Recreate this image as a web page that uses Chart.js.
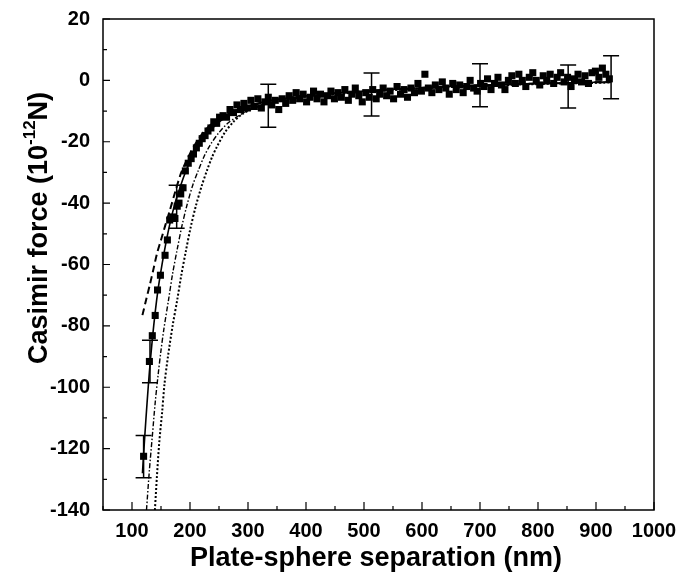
<!DOCTYPE html>
<html>
<head>
<meta charset="utf-8">
<script src="https://cdn.jsdelivr.net/npm/chart.js@4/dist/chart.umd.min.js"></script>
<style>
html,body{margin:0;padding:0;background:#fff;}
#wrap{width:679px;height:580px;}
</style>
</head>
<body>
<div id="wrap"><canvas id="c" width="679" height="580"></canvas></div>
<script>
// ---- data ----
const sepData = [120,130,135,140,144,149,157,161,165,170,174,178,181,184,188,192,197,202,206,211,216,221,226,231,236,241,246,251,257,263,269,275,281,287,293,299,
305,311,317,323,329,335,341,347,353,359,365,371,377,383,389,395,401,407,413,419,425,431,437,443,449,455,461,467,473,479,485,491,497,503,509,515,521,527,533,539,545,551,557,563,569,575,581,587,593,599,605,611,617,623,629,635,641,647,653,659,665,671,677,683,689,695,701,707,713,719,725,731,737,743,749,755,761,767,773,779,785,791,797,803,809,815,821,827,833,839,845,851,857,863,869,875,881,887,893,899,905,911,917,923];
const forceData = [-122.5,-91.6,-83.2,-76.6,-68.3,-63.5,-57,-52,-45.5,-44.5,-45,-41,-40,-37,-35,-29.5,-27,-25.5,-24,-22,-20.5,-19,-18,-16.5,-15.5,-13.5,-14,-12,-11.5,-12,-9.5,-10.5,-8,-9.5,-7.5,-9,
-6.5,-8.5,-6,-9,-7,-5.5,-8,-6.5,-9.5,-6,-7.5,-5,-6.5,-4,-6,-4.5,-7,-5.5,-3.5,-6,-4.5,-7,-5,-3.5,-6,-4,-5.5,-3,-6.5,-4.5,-2.5,-5,-7,-4,-5.5,-3,-6,-4.5,-2.5,-5,-3.5,-6,-2,-4.5,-3,-5.5,-2.5,-4,-1,-3.5,2,-2.5,-4,-1.5,-3,-0.5,-2.5,-4.5,-1,-3,-1.5,-4,-2,0,-2.5,-3.5,-1,-2,0.5,-3,-1,1,-1.5,-3,0,1.5,-1,2,0,-2,1,2.5,0,-1.5,1.5,0,2,-1,1,2.5,-0.5,1,-2,0.5,2,-0.5,1.5,-1,2.5,3,1,4,2,0.5];

// error bars: position, centre, half-length
const errSep    = [120, 131, 177, 335, 513, 700, 852, 926];
const errCenter = [-122.6, -91.6, -41.2, -8.3, -4.6, -1.6, -2, 1];
const errHalf   = [6.9, 6.9, 7, 7, 7, 7, 7, 7];

// theory curves
const solidX = [118,122,126,130,135,140,145,150,155,160,165,170,175,180,190,200,210,220,230,240,250,260,270,280,300,320,350,400,450,500,550,600,650,700,750,800,850,900,925];
const solidY = [-128,-116,-105,-95,-84.5,-75.5,-68,-62,-56.5,-51.5,-47,-43,-39.5,-36.5,-31,-26.5,-22.8,-19.8,-17.3,-15.3,-13.6,-12.2,-11,-10,-8.4,-7.3,-6.2,-5,-4.2,-3.5,-2.9,-2.4,-2,-1.6,-1.3,-1,-0.8,-0.6,-0.5];
const dashX = [118,125,131,137,143,150,157,165,175,185,197,210,225,240,260,280,300,350,400,500,600,700,800,925];
const dashY = [-76.5,-71,-66.4,-61.5,-56.5,-52,-47.5,-42.5,-36,-30,-25,-20.5,-16.5,-13.8,-11.5,-9.8,-8.5,-6.3,-5,-3.5,-2.4,-1.6,-1,-0.5];
const dashDotX = [125,130,135,140,145,150,155,163,170,178,186,195,205,214,225,235,250,265,280,300,330,370,420,500,600,700,800,925];
const dashDotY = [-140,-127,-116,-105,-96,-88,-81,-71.5,-63,-55,-47.5,-40.5,-34,-29.5,-24.5,-21,-17,-14,-12,-9.8,-7.8,-6.2,-5,-3.8,-2.6,-1.8,-1.2,-0.7];
const dotX = [139.5,143,147,152,156,162,170,178,185,193,201,210,220,229,238,246,260,275,290,310,340,380,430,500,600,700,800,925];
const dotY = [-140,-129,-118,-108,-99,-90,-80,-71.5,-63.5,-55.5,-48,-41,-34.5,-29.5,-25,-21.8,-17,-13.5,-11,-9,-7.2,-5.8,-4.8,-3.8,-2.6,-1.8,-1.2,-0.7];

// axis ticks
const xTicks = [100,200,300,400,500,600,700,800,900,1000];
const xMinor = [50,150,250,350,450,550,650,750,850,950];
const yTicks = [20,0,-20,-40,-60,-80,-100,-120,-140];
const yMinor = [10,-10,-30,-50,-70,-90,-110,-130];

const xTitle = 'Plate-sphere separation (nm)';
const yTitleMain = 'Casimir force (10';
const yTitleSup = '-12';
const yTitleEnd = 'N)';

const FONT = "'Liberation Sans', Arial, Helvetica, sans-serif";
const pts = (xs, ys) => xs.map((x, i) => ({x: x, y: ys[i]}));

const decor = {
  id: 'decor',
  afterDatasetsDraw(chart) {
    const ctx = chart.ctx, xs = chart.scales.x, ys = chart.scales.y, a = chart.chartArea;
    ctx.save();
    ctx.strokeStyle = '#000';
    // error bars
    ctx.lineWidth = 1.5;
    errSep.forEach((s, i) => {
      const px = xs.getPixelForValue(s);
      const top = ys.getPixelForValue(errCenter[i] + errHalf[i]);
      const bot = ys.getPixelForValue(errCenter[i] - errHalf[i]);
      ctx.beginPath();
      ctx.moveTo(px, top); ctx.lineTo(px, bot);
      ctx.moveTo(px - 8, top); ctx.lineTo(px + 8, top);
      ctx.moveTo(px - 8, bot); ctx.lineTo(px + 8, bot);
      ctx.stroke();
    });
    // frame
    ctx.lineWidth = 1.5;
    ctx.strokeRect(a.left, a.top, a.right - a.left, a.bottom - a.top);
    // inward ticks
    ctx.lineWidth = 1.2;
    ctx.beginPath();
    xTicks.forEach(v => { const p = xs.getPixelForValue(v); ctx.moveTo(p, a.bottom); ctx.lineTo(p, a.bottom - 8); });
    xMinor.forEach(v => { const p = xs.getPixelForValue(v); ctx.moveTo(p, a.bottom); ctx.lineTo(p, a.bottom - 4); });
    yTicks.forEach(v => { const p = ys.getPixelForValue(v); ctx.moveTo(a.left, p); ctx.lineTo(a.left + 7, p); });
    yMinor.forEach(v => { const p = ys.getPixelForValue(v); ctx.moveTo(a.left, p); ctx.lineTo(a.left + 4, p); });
    ctx.stroke();
    // titles
    ctx.fillStyle = '#000';
    ctx.textBaseline = 'alphabetic';
    ctx.textAlign = 'center';
    ctx.font = 'bold 27px ' + FONT;
    ctx.fillText(xTitle, 376, 566);
    // y title rotated with superscript
    ctx.translate(37, 228);
    ctx.rotate(-Math.PI / 2);
    ctx.textAlign = 'left';
    const mainF = 'bold 27px ' + FONT, supF = 'bold 17px ' + FONT;
    ctx.font = mainF; const w1 = ctx.measureText(yTitleMain).width; const w3 = ctx.measureText(yTitleEnd).width;
    ctx.font = supF; const w2 = ctx.measureText(yTitleSup).width;
    let x0 = -(w1 + w2 + w3) / 2;
    ctx.font = mainF; ctx.fillText(yTitleMain, x0, 9.5); x0 += w1;
    ctx.font = supF; ctx.fillText(yTitleSup, x0, -2); x0 += w2;
    ctx.font = mainF; ctx.fillText(yTitleEnd, x0, 9.5);
    ctx.restore();
  }
};

const lineDs = (data, dash, width, ord) => ({
  type: 'line', data: data, borderColor: '#000', borderWidth: width, borderDash: dash,
  pointRadius: 0, fill: false, tension: 0.3, order: ord
});

new Chart(document.getElementById('c'), {
  type: 'scatter',
  data: {
    datasets: [
      { type: 'scatter', data: pts(sepData, forceData), pointStyle: 'rect', pointRadius: 5,
        backgroundColor: '#000', borderColor: '#000', borderWidth: 0, order: 0 },
      lineDs(pts(solidX, solidY), [], 1.6, 1),
      lineDs(pts(dashX, dashY), [7, 4], 2, 2),
      lineDs(pts(dashDotX, dashDotY), [5, 2, 1.5, 2], 1.4, 3),
      lineDs(pts(dotX, dotY), [2, 2], 2, 4)
    ]
  },
  options: {
    responsive: false, animation: false,
    layout: { padding: { top: 19, right: 25, left: 0, bottom: 0 } },
    plugins: { legend: { display: false }, tooltip: { enabled: false } },
    scales: {
      x: {
        type: 'linear', min: 50, max: 1000,
        afterBuildTicks: s => { s.ticks = xTicks.map(v => ({ value: v })); },
        afterFit: s => { s.height = 70; s.paddingLeft = 0; s.paddingRight = 0; },
        grid: { display: false, drawTicks: false }, border: { display: false },
        ticks: { color: '#000', font: { family: FONT, size: 20, weight: 'bold' }, padding: 9, maxRotation: 0, autoSkip: false,
                 callback: v => String(v) }
      },
      y: {
        type: 'linear', min: -140, max: 20,
        afterBuildTicks: s => { s.ticks = yTicks.map(v => ({ value: v })); },
        afterFit: s => { s.width = 103; s.paddingTop = 0; s.paddingBottom = 0; },
        grid: { display: false, drawTicks: false }, border: { display: false },
        ticks: { color: '#000', font: { family: FONT, size: 20, weight: 'bold' }, padding: 13, autoSkip: false,
                 callback: v => String(v) }
      }
    }
  },
  plugins: [decor]
});
</script>
</body>
</html>
